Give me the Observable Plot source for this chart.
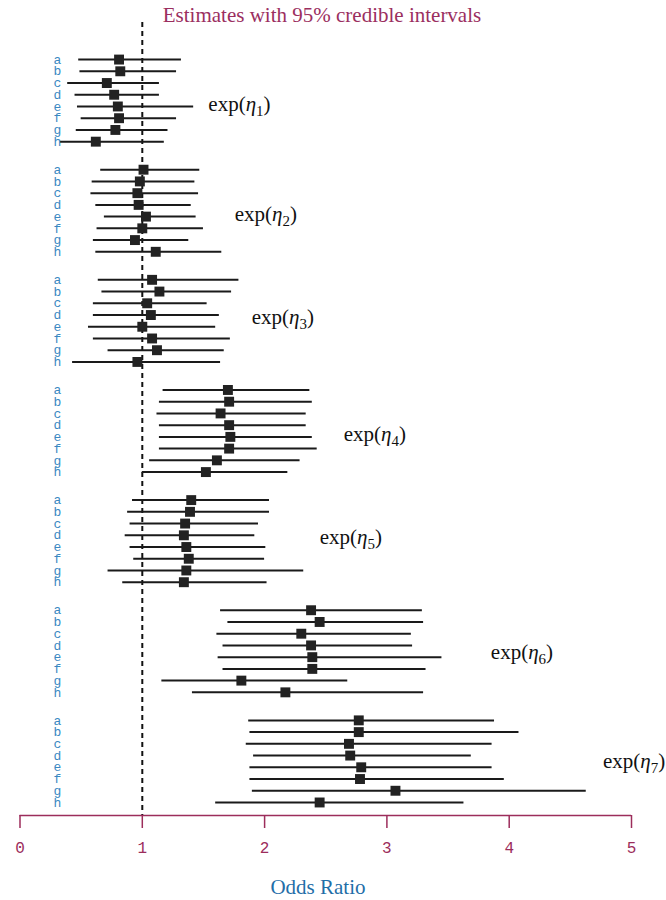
<!DOCTYPE html>
<html>
<head>
<meta charset="utf-8">
<script src="https://cdn.jsdelivr.net/npm/d3@7"></script>
<script src="https://cdn.jsdelivr.net/npm/@observablehq/plot@0.6"></script>
<style>
  body { margin: 0; background: #fff; }
  #title { width: 666px; height: 22px; box-sizing: border-box; padding-top: 5px; padding-right: 22px;
    text-align: center; font-family: "Liberation Serif", serif; font-size: 21px; line-height: 1; color: #9b2f5f; white-space: nowrap; }
  #chart svg { display: block; }
  #xlabel { width: 666px; box-sizing: border-box; padding-top: 15px; padding-right: 30px;
    text-align: center; font-family: "Liberation Serif", serif; font-size: 21px; line-height: 1; color: #1f6ea8; }
</style>
</head>
<body>
<div id="title">Estimates with 95% credible intervals</div>
<div id="chart"></div>
<div id="xlabel">Odds Ratio</div>
<script>
// ---- data ----
const groups = [1, 2, 3, 4, 5, 6, 7];
const rowLabels = ["a", "b", "c", "d", "e", "f", "g", "h"];
const xTicks = [0, 1, 2, 3, 4, 5];

const estimate = [
  [0.81, 0.82, 0.71, 0.77, 0.80, 0.81, 0.78, 0.62],
  [1.01, 0.98, 0.96, 0.97, 1.03, 1.00, 0.94, 1.11],
  [1.08, 1.14, 1.04, 1.07, 1.00, 1.08, 1.12, 0.96],
  [1.70, 1.71, 1.64, 1.71, 1.72, 1.71, 1.61, 1.52],
  [1.40, 1.39, 1.35, 1.34, 1.36, 1.38, 1.36, 1.34],
  [2.38, 2.45, 2.30, 2.38, 2.39, 2.39, 1.81, 2.17],
  [2.77, 2.77, 2.69, 2.70, 2.79, 2.78, 3.07, 2.45]
];
const lower = [
  [0.48, 0.49, 0.39, 0.45, 0.47, 0.50, 0.46, 0.33],
  [0.66, 0.59, 0.58, 0.62, 0.69, 0.63, 0.60, 0.62],
  [0.64, 0.67, 0.60, 0.60, 0.56, 0.60, 0.72, 0.43],
  [1.17, 1.14, 1.12, 1.14, 1.14, 1.14, 1.06, 1.00],
  [0.92, 0.88, 0.90, 0.86, 0.90, 0.93, 0.72, 0.84],
  [1.64, 1.70, 1.61, 1.66, 1.62, 1.66, 1.16, 1.41],
  [1.87, 1.88, 1.85, 1.91, 1.88, 1.88, 1.90, 1.60]
];
const upper = [
  [1.32, 1.28, 1.14, 1.14, 1.42, 1.28, 1.21, 1.18],
  [1.47, 1.43, 1.46, 1.40, 1.44, 1.50, 1.38, 1.65],
  [1.79, 1.73, 1.53, 1.63, 1.60, 1.72, 1.67, 1.64],
  [2.37, 2.39, 2.34, 2.34, 2.39, 2.43, 2.29, 2.19],
  [2.04, 2.04, 1.95, 1.92, 2.01, 2.00, 2.32, 2.02],
  [3.29, 3.30, 3.20, 3.21, 3.45, 3.32, 2.68, 3.30],
  [3.88, 4.08, 3.86, 3.69, 3.86, 3.96, 4.63, 3.63]
];
// where each exp(eta_k) annotation sits (x in odds-ratio units, y in rows of its group)
const labelX = [1.54, 1.755, 1.894, 2.647, 2.451, 3.85, 4.767];
const labelRow = [3.85, 3.76, 3.16, 3.76, 3.16, 3.59, 3.5];

// ---- layout ----
const GROUP_STEP = 9.39;          // rows per group including the gap
const yDomain = [-3.16, (groups.length - 1) * GROUP_STEP + rowLabels.length - 1 + 1.11];
const xDomain = [0, 5];

const rows = [];
groups.forEach((g, gi) => rowLabels.forEach((lab, i) => rows.push({
  group: g, label: lab, pos: gi * GROUP_STEP + i,
  est: estimate[gi][i], lo: lower[gi][i], hi: upper[gi][i]
})));
const labels = groups.map((g, gi) => ({
  text: `exp(η${g})`, x: labelX[gi], pos: gi * GROUP_STEP + labelRow[gi]
}));

const purple = "#9c2d5b";
const chart = Plot.plot({
  width: 666, height: 840,
  marginTop: 0, marginBottom: 47, marginLeft: 19.5, marginRight: 35,
  style: { color: purple, background: "white", overflow: "visible" },
  x: { domain: xDomain },
  y: { domain: yDomain, reverse: true, axis: null },
  marks: [
    Plot.ruleX([1], { stroke: "#111", strokeWidth: 2, strokeDasharray: "5,4" }),
    Plot.ruleY([yDomain[1]], { x1: xDomain[0], x2: xDomain[1], stroke: purple, strokeWidth: 1.5 }),
    Plot.axisX({ ticks: xTicks, tickSize: 13, tickPadding: 13, strokeWidth: 1.5,
      fontSize: 16, fontFamily: "Liberation Mono, monospace", label: null, tickFormat: d => String(d) }),
    Plot.ruleY(rows, { y: "pos", x1: "lo", x2: "hi", stroke: "#1a1a1a", strokeWidth: 2 }),
    Plot.dot(rows, { x: "est", y: "pos", symbol: "square", r: 5.6, fill: "#222", stroke: "none" }),
    Plot.text(rows, { y: "pos", text: "label", frameAnchor: "left", dx: 37.5, textAnchor: "middle",
      fontSize: 13, fontFamily: "Liberation Mono, monospace", fill: "#3a88c2" }),
    Plot.text(labels, { x: "x", y: "pos", text: "text", textAnchor: "start", lineAnchor: "middle",
      fontSize: 21, fontFamily: "Liberation Serif, serif", fill: "#111" })
  ]
});

// subscripts / italic eta in annotation labels
d3.select(chart).selectAll("text").each(function () {
  const m = /^exp\(η(\d)\)$/.exec(this.textContent);
  if (!m) return;
  const t = d3.select(this);
  t.text(null);
  t.append("tspan").text("exp(");
  t.append("tspan").attr("font-style", "italic").text("η");
  t.append("tspan").attr("font-size", "15px").attr("dy", "5").text(m[1]);
  t.append("tspan").attr("dy", "-5").text(")");
});

document.getElementById("chart").append(chart);
</script>
</body>
</html>
